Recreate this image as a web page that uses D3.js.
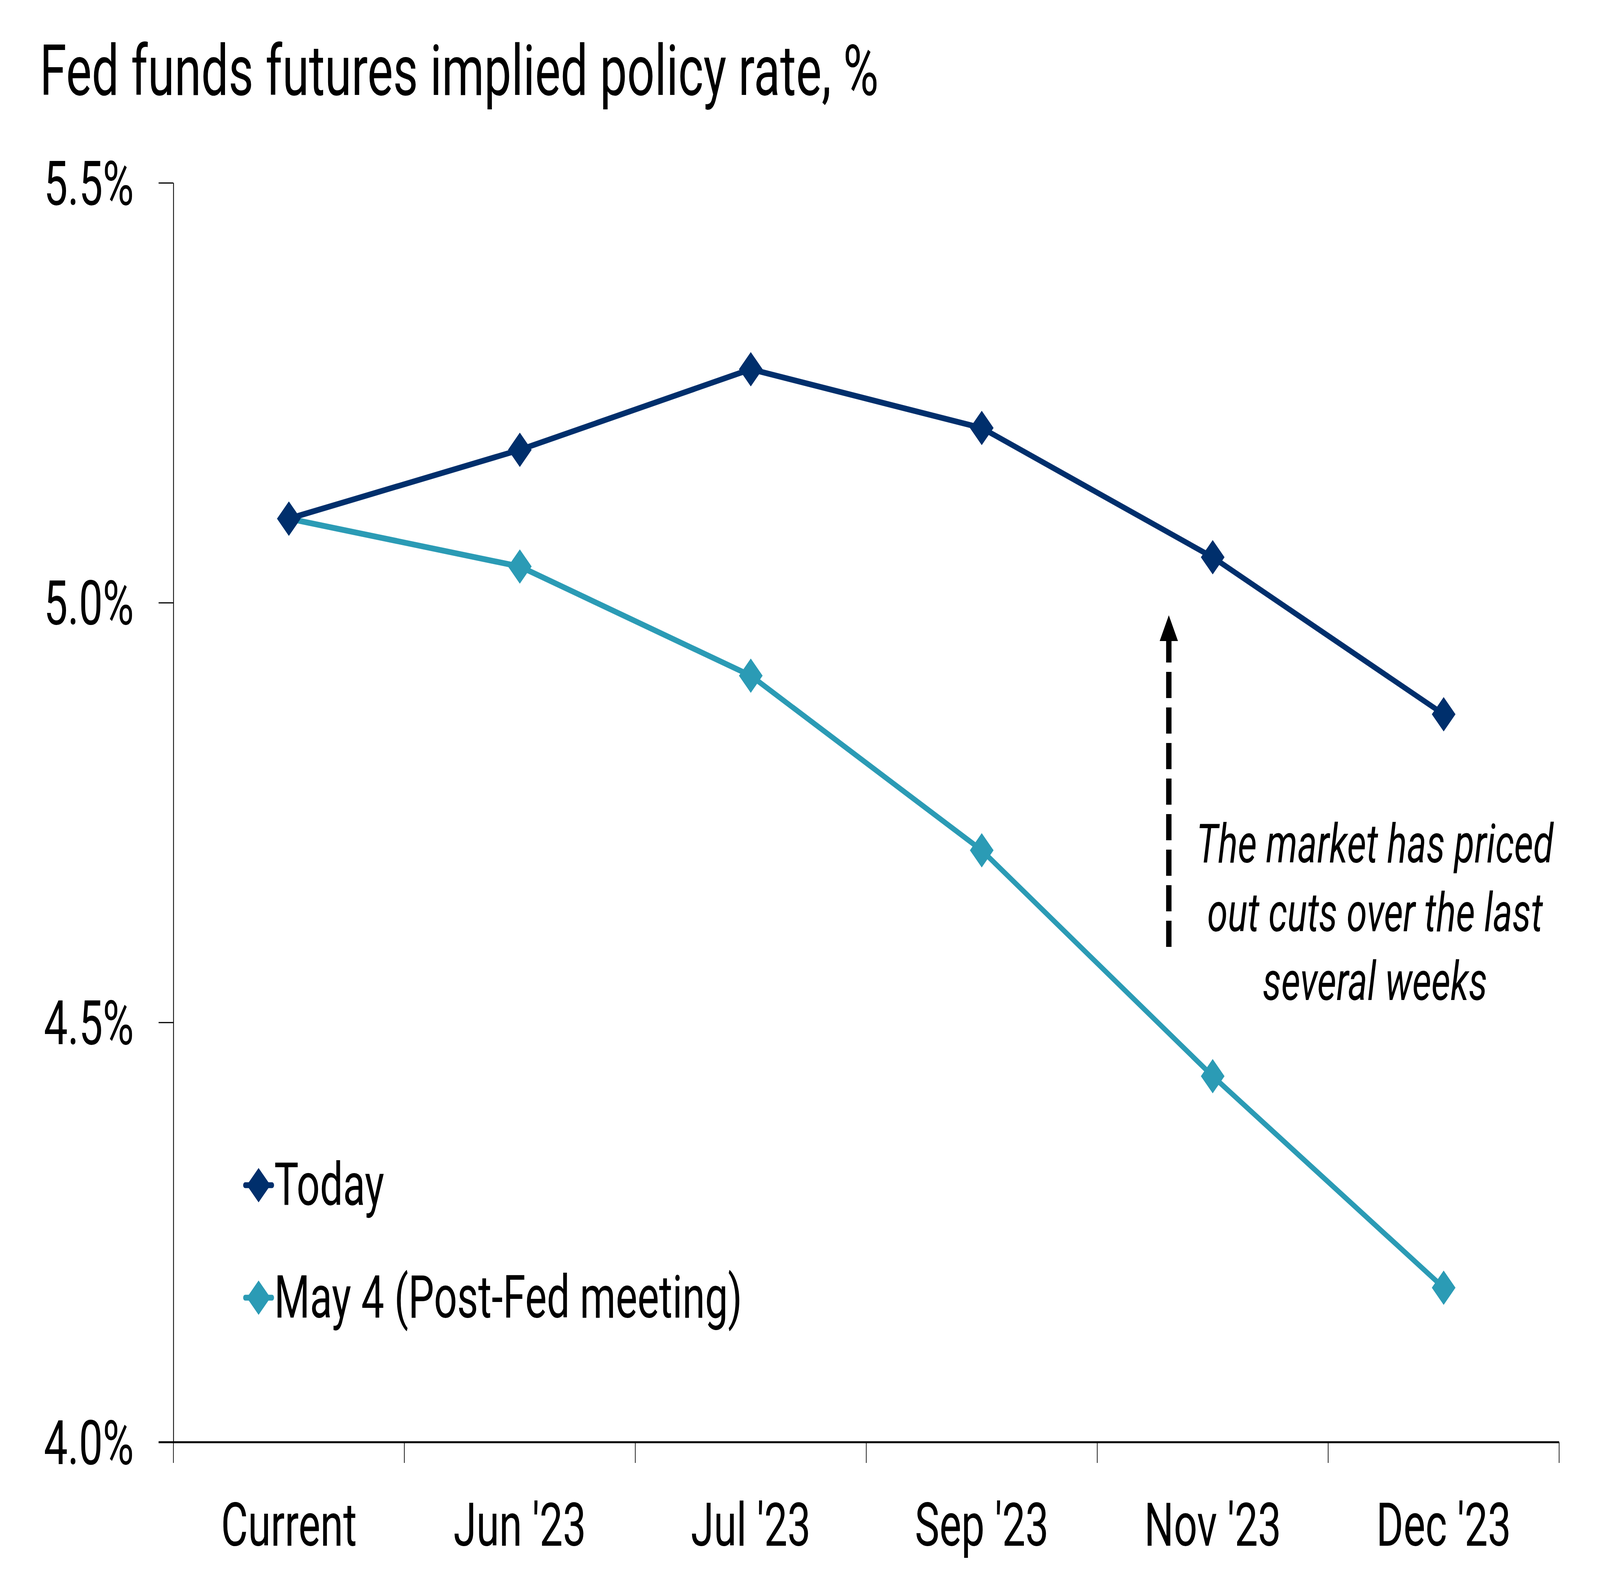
<!DOCTYPE html>
<html>
<head>
<meta charset="utf-8">
<script src="https://cdn.jsdelivr.net/npm/d3@7"></script>
<style>
  html, body { margin: 0; padding: 0; width: 100%; height: 100%; overflow: hidden; background: #fff; }
  svg { display: block; width: 100vw; height: 100vh; font-family: Roboto, "Open Sans", sans-serif; }
</style>
</head>
<body>
<svg id="chart" viewBox="0 0 5952 4078" preserveAspectRatio="none"></svg>
<script>
// chart data
var categories = ['Current', "Jun '23", "Jul '23", "Sep '23", "Nov '23", "Dec '23"]
var today_values = [5.10, 5.182, 5.278, 5.208, 5.054, 4.867]
var may4_values = [5.10, 5.043, 4.913, 4.705, 4.436, 4.184]
var y_ticks = [4.0, 4.5, 5.0, 5.5]
var series_names = ['Today', 'May 4 (Post-Fed meeting)']
var note_lines = ['The market has priced', 'out cuts over the last', 'several weeks']

var navy = '#002f6c'
var teal = '#2b9bb5'

var width = 5952, height = 4078
var plot_left = 645, plot_right = 5800, plot_top = 468, plot_bottom = 3692
var marker_size = 88 * 88 / 2   // diamond ~88px across

var svg = d3.select('#chart')
svg.append('rect').attr('width', width).attr('height', height).attr('fill', '#fff')

var x = d3.scaleBand().domain(categories).range([plot_left, plot_right]).padding(0)
var y = d3.scaleLinear().domain([4.0, 5.5]).range([plot_bottom, plot_top])
var cx = function(c) { return x(c) + x.bandwidth() / 2 }

// title
svg.append('text')
    .attr('x', 148).attr('y', 243)
    .attr('font-size', 180)
    .attr('fill', '#000')
    .text('Fed funds futures implied policy rate, %')

// y axis
var y_axis = svg.append('g')
    .attr('transform', 'translate(' + plot_left + ',0)')
    .call(d3.axisLeft(y).tickValues(y_ticks).tickSize(55).tickSizeOuter(0).tickPadding(92)
        .tickFormat(function(d) { return d.toFixed(1) + '%' }))
y_axis.select('.domain').attr('stroke', '#000').attr('stroke-width', 3)
y_axis.selectAll('.tick line').attr('stroke', '#000').attr('stroke-width', 3)
y_axis.selectAll('.tick text')
    .attr('font-size', 158).attr('font-family', 'Roboto').attr('fill', '#000').attr('dy', '0.35em')

// x axis: labels centred in bands, ticks on band edges
var x_axis = svg.append('g')
    .attr('transform', 'translate(0,' + plot_bottom + ')')
    .call(d3.axisBottom(x).tickSize(0).tickSizeOuter(0))
x_axis.select('.domain').remove()
x_axis.selectAll('.tick text')
    .attr('font-size', 154).attr('font-family', 'Roboto').attr('fill', '#000')
    .attr('y', 0).attr('dy', 265)

var edges = categories.map(function(c) { return x(c) }).concat([plot_right])
x_axis.selectAll('line.edge')
    .data(edges)
    .enter().append('line')
        .attr('class', 'edge')
        .attr('x1', function(d) { return d }).attr('x2', function(d) { return d })
        .attr('y1', 0).attr('y2', 53)
        .attr('stroke', '#000').attr('stroke-width', 2.5)
x_axis.append('line')
    .attr('x1', plot_left - 55).attr('x2', plot_right)
    .attr('y1', 0).attr('y2', 0)
    .attr('stroke', '#000').attr('stroke-width', 5)

// series lines + diamond markers
var series = [
    { name: series_names[1], values: may4_values, color: teal },
    { name: series_names[0], values: today_values, color: navy }
]
var line = d3.line()
    .x(function(d, i) { return cx(categories[i]) })
    .y(function(d) { return y(d) })
var diamond = d3.symbol().type(d3.symbolSquare).size(marker_size)

series.forEach(function(s) {
    var g = svg.append('g').attr('class', 'series')
    g.append('path')
        .attr('d', line(s.values))
        .attr('fill', 'none')
        .attr('stroke', s.color)
        .attr('stroke-width', 15)
        .attr('stroke-linejoin', 'round')
    g.selectAll('path.marker')
        .data(s.values)
        .enter().append('path')
            .attr('class', 'marker')
            .attr('d', diamond)
            .attr('transform', function(d, i) { return 'translate(' + cx(categories[i]) + ',' + y(d) + ') rotate(45)' })
            .attr('fill', s.color)
})

// legend
var legend_items = [
    { name: series_names[0], color: navy },
    { name: series_names[1], color: teal }
]
var legend = svg.append('g').attr('transform', 'translate(962,3034)')
var item = legend.selectAll('g')
    .data(legend_items)
    .enter().append('g')
        .attr('transform', function(d, i) { return 'translate(0,' + (i * 288) + ')' })
item.append('line')
    .attr('x1', -50).attr('x2', 50)
    .attr('stroke', function(d) { return d.color })
    .attr('stroke-width', 15)
    .attr('stroke-linecap', 'round')
item.append('path')
    .attr('d', diamond)
    .attr('transform', 'rotate(45)')
    .attr('fill', function(d) { return d.color })
item.append('text')
    .attr('x', 58).attr('y', 51)
    .attr('font-size', 152)
    .attr('fill', '#000')
    .text(function(d) { return d.name })

// annotation: dashed arrow + italic note
var arrow_x = x("Nov '23") + 0.31 * x.bandwidth()
var arrow_bottom = y(4.59), arrow_tip = y(4.985)
var head_h = 66, head_w = 68
svg.append('line')
    .attr('x1', arrow_x).attr('x2', arrow_x)
    .attr('y1', arrow_bottom).attr('y2', arrow_tip + head_h - 2)
    .attr('stroke', '#000').attr('stroke-width', 20)
    .attr('stroke-dasharray', '67,24')
svg.append('path')
    .attr('d', 'M' + arrow_x + ',' + arrow_tip +
               'L' + (arrow_x + head_w / 2) + ',' + (arrow_tip + head_h) +
               'L' + (arrow_x - head_w / 2) + ',' + (arrow_tip + head_h) + 'Z')
    .attr('fill', '#000')

svg.append('text')
    .attr('x', 5115).attr('y', 2208)
    .attr('font-size', 138)
    .attr('font-style', 'italic')
    .attr('text-anchor', 'middle')
    .attr('fill', '#000')
    .selectAll('tspan')
    .data(note_lines)
    .enter().append('tspan')
        .attr('x', 5115)
        .attr('dy', function(d, i) { return i == 0 ? 0 : 176 })
        .text(function(d) { return d })
</script>
</body>
</html>
